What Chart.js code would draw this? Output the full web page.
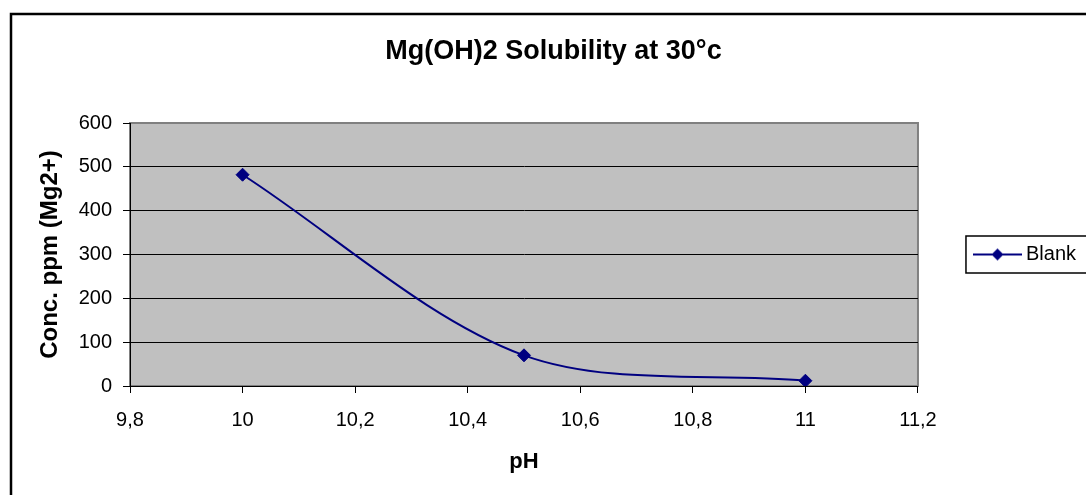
<!DOCTYPE html>
<html>
<head>
<meta charset="utf-8">
<title>Mg(OH)2 Solubility at 30°c</title>
<script src="https://cdn.jsdelivr.net/npm/chart.js@4/dist/chart.umd.min.js"></script>
<style>
  html, body { margin: 0; padding: 0; background: #fff; overflow: hidden; }
  #wrap { position: absolute; left: 0; top: 0; width: 1120px; height: 495px; }
</style>
</head>
<body>
<div id="wrap"><canvas id="solubilityChart" width="1120" height="495"></canvas></div>
<script>
// Blank series: Mg2+ concentration (ppm) vs pH
const phValues = [10, 10.5, 11];
const blankConc = [482, 70, 12];

// Axis ticks
const phTicks = [9.8, 10, 10.2, 10.4, 10.6, 10.8, 11, 11.2];
const concTicks = [0, 100, 200, 300, 400, 500, 600];

const NAVY = '#000080';
const FONT = 'Arial, "Liberation Sans", sans-serif';

// Legend symbol: short line with a diamond in the middle
function makeLegendSymbol() {
  const c = document.createElement('canvas');
  c.width = 49;
  c.height = 14;
  const g = c.getContext('2d');
  g.strokeStyle = NAVY;
  g.lineWidth = 2;
  g.beginPath();
  g.moveTo(0, 7);
  g.lineTo(49, 7);
  g.stroke();
  g.fillStyle = NAVY;
  g.beginPath();
  g.moveTo(24.5, 1);
  g.lineTo(30.5, 7);
  g.lineTo(24.5, 13);
  g.lineTo(18.5, 7);
  g.closePath();
  g.fill();
  return c;
}

// Outer frame, grey plot area and the box round the legend
const excelFrame = {
  id: 'excelFrame',
  beforeDraw(chart) {
    const { ctx, chartArea: a } = chart;
    ctx.save();
    ctx.strokeStyle = '#000';
    ctx.lineWidth = 2.5;
    ctx.strokeRect(11, 14, chart.width, chart.height);
    ctx.fillStyle = '#c0c0c0';
    ctx.fillRect(a.left, a.top, a.right - a.left, a.bottom - a.top);
    ctx.strokeStyle = '#808080';
    ctx.lineWidth = 2;
    ctx.strokeRect(a.left, a.top, a.right - a.left, a.bottom - a.top);
    ctx.restore();
  },
  afterDraw(chart) {
    const hb = chart.legend && chart.legend.legendHitBoxes[0];
    if (!hb) return;
    const { ctx } = chart;
    ctx.save();
    ctx.strokeStyle = '#000';
    ctx.lineWidth = 1.5;
    ctx.strokeRect(hb.left - 13, hb.top - 8.5, 200, 37);
    ctx.restore();
  }
};

const ctx = document.getElementById('solubilityChart').getContext('2d');
new Chart(ctx, {
  type: 'line',
  data: {
    datasets: [{
      label: 'Blank',
      data: phValues.map((x, i) => ({ x: x, y: blankConc[i] })),
      borderColor: NAVY,
      backgroundColor: NAVY,
      borderWidth: 2,
      tension: 0.32,
      pointStyle: 'rectRot',
      pointRadius: 6.5,
      pointBorderWidth: 1,
      pointBackgroundColor: NAVY,
      pointBorderColor: NAVY,
      fill: false
    }]
  },
  options: {
    responsive: false,
    animation: false,
    layout: {
      padding: { left: 21, right: 34, top: 0, bottom: 0 }
    },
    plugins: {
      title: {
        display: true,
        text: 'Mg(OH)2 Solubility at 30°c',
        color: '#000',
        font: { family: FONT, size: 27, weight: 'bold' },
        padding: { top: 35, bottom: 55.6 }
      },
      legend: {
        position: 'right',
        fullSize: false,
        labels: {
          usePointStyle: true,
          pointStyle: makeLegendSymbol(),
          pointStyleWidth: 37,
          padding: 61,
          color: '#000',
          font: { family: FONT, size: 20 }
        }
      },
      tooltip: { enabled: false }
    },
    scales: {
      x: {
        type: 'linear',
        min: 9.8,
        max: 11.2,
        afterBuildTicks: (scale) => {
          scale.ticks = phTicks.map(v => ({ value: v }));
        },
        afterFit: (scale) => { scale.height = 109; },
        grid: {
          drawOnChartArea: false,
          drawTicks: true,
          tickLength: 7,
          tickColor: '#000'
        },
        border: { display: true, color: '#000', width: 1 },
        ticks: {
          padding: 15,
          color: '#000',
          font: { family: FONT, size: 20 },
          maxRotation: 0,
          callback: (v) => String(Math.round(v * 10) / 10).replace('.', ',')
        },
        title: {
          display: true,
          text: 'pH',
          color: '#000',
          font: { family: FONT, size: 22, weight: 'bold' },
          padding: { top: 0, bottom: 20 }
        }
      },
      y: {
        min: 0,
        max: 600,
        afterBuildTicks: (scale) => {
          scale.ticks = concTicks.map(v => ({ value: v }));
        },
        afterFit: (scale) => { scale.width = 109; },
        grid: {
          color: (c) => (c.tick && c.tick.value === 600 ? '#808080' : '#000'),
          lineWidth: 1,
          tickLength: 7,
          tickColor: '#000'
        },
        border: { display: true, color: '#000', width: 1 },
        ticks: {
          padding: 11,
          color: '#000',
          font: { family: FONT, size: 20 }
        },
        title: {
          display: true,
          text: 'Conc. ppm (Mg2+)',
          color: '#000',
          font: { family: FONT, size: 24, weight: 'bold' },
          padding: { top: 15, bottom: 0 }
        }
      }
    }
  },
  plugins: [excelFrame]
});
</script>
</body>
</html>
